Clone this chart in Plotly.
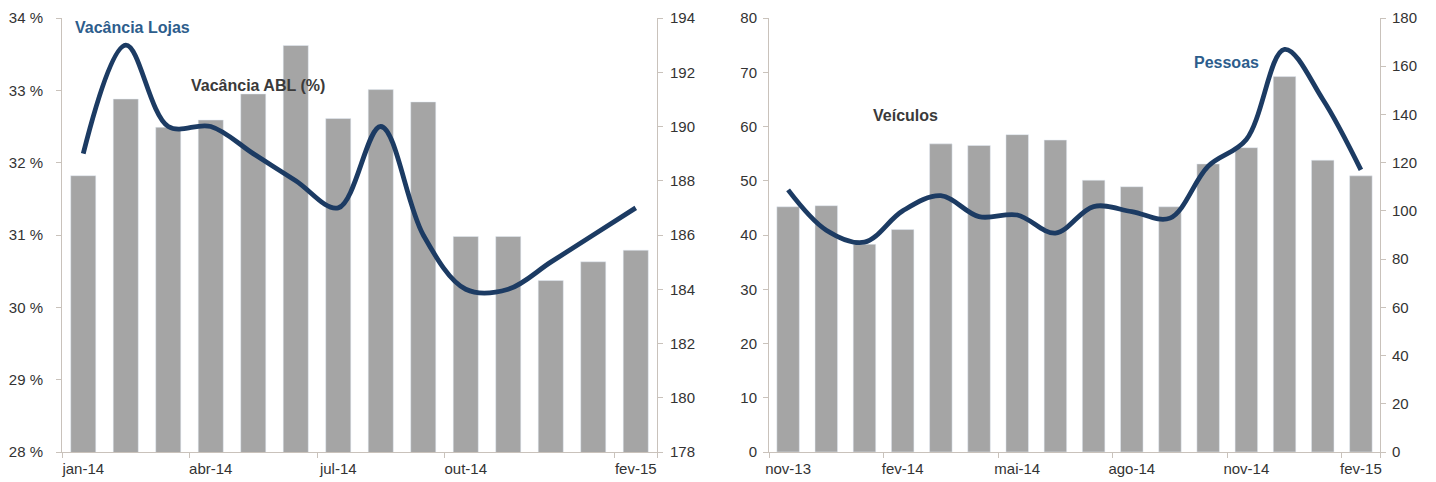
import plotly.graph_objects as go

# ---- Left chart data ----
months_left = ["jan-14", "fev-14", "mar-14", "abr-14", "mai-14", "jun-14", "jul-14",
               "ago-14", "set-14", "out-14", "nov-14", "dez-14", "jan-15", "fev-15"]
vacancia_abl = [31.82, 32.88, 32.49, 32.59, 32.95, 33.62, 32.61,
                33.01, 32.84, 30.98, 30.98, 30.37, 30.63, 30.79]
vacancia_lojas = [189, 193, 190, 190, 189, 188, 187, 190, 186, 184, 184, 185, 186, 187]
left_tick_labels = ["jan-14", "abr-14", "jul-14", "out-14", "fev-15"]
left_pct_ticks = [28, 29, 30, 31, 32, 33, 34]
left_cnt_ticks = [178, 180, 182, 184, 186, 188, 190, 192, 194]

# ---- Right chart data ----
months_right = ["nov-13", "dez-13", "jan-14", "fev-14", "mar-14", "abr-14", "mai-14", "jun-14",
                "jul-14", "ago-14", "set-14", "out-14", "nov-14", "dez-14", "jan-15", "fev-15"]
veiculos = [45.2, 45.4, 38.3, 41.0, 56.8, 56.5, 58.5, 57.5,
            50.1, 48.9, 45.2, 53.1, 56.1, 69.2, 53.8, 50.9]
pessoas = [108.7, 92, 87, 100, 106.3, 97.6, 98.3, 90.8,
           101.8, 99.7, 97, 118.5, 129.6, 167, 146.3, 117]
right_tick_labels = ["nov-13", "fev-14", "mai-14", "ago-14", "nov-14", "fev-15"]
right_left_ticks = [0, 10, 20, 30, 40, 50, 60, 70, 80]
right_right_ticks = [0, 20, 40, 60, 80, 100, 120, 140, 160, 180]

BAR = "#a5a5a5"
LINE = "#1c3b63"
BLUE_TXT = "#2d5d8c"
DARK_TXT = "#3a3a3a"
AXIS = "#c9c2bb"
FONT = "Liberation Sans, Arial, sans-serif"

fig = go.Figure()

fig.add_trace(go.Bar(x=months_left, y=vacancia_abl, marker_color=BAR,
                     xaxis="x", yaxis="y", showlegend=False))
fig.add_trace(go.Scatter(x=months_left, y=vacancia_lojas, mode="lines",
                         line=dict(color=LINE, width=4.8, shape="spline", smoothing=1.0),
                         xaxis="x", yaxis="y2", showlegend=False))
fig.add_trace(go.Bar(x=months_right, y=veiculos, marker_color=BAR,
                     xaxis="x3", yaxis="y3", showlegend=False))
fig.add_trace(go.Scatter(x=months_right, y=pessoas, mode="lines",
                         line=dict(color=LINE, width=4.8, shape="spline", smoothing=1.0),
                         xaxis="x3", yaxis="y4", showlegend=False))

W, H = 1436, 482
OFF = 8  # page body margin


def px_x(p):
    return (p - OFF) / W


def px_y(p):
    return 1 - (p - OFF) / H


ydom = [px_y(452), px_y(18)]
tickfont = dict(family=FONT, size=15, color="#333333")

common_x = dict(type="category", showline=True, linecolor=AXIS, linewidth=1,
                ticks="outside", ticklen=5, tickcolor=AXIS, tickson="boundaries",
                tickangle=0, automargin=False, ticklabelstandoff=3,
                tickfont=tickfont, showgrid=False, zeroline=False, fixedrange=True)
common_y = dict(showline=True, linecolor=AXIS, linewidth=1, ticks="outside", ticklen=5,
                tickcolor=AXIS, tickfont=tickfont, showgrid=False, zeroline=False,
                automargin=False)

fig.update_layout(
    width=W, height=H,
    margin=dict(l=0, r=0, t=0, b=0),
    paper_bgcolor="white", plot_bgcolor="white",
    bargap=0.41,
    font=dict(family=FONT),
    xaxis=dict(common_x, domain=[px_x(62), px_x(657)], anchor="y",
               tickmode="array", tickvals=left_tick_labels, ticktext=left_tick_labels,
               range=[-0.5, len(months_left) - 0.5]),
    yaxis=dict(common_y, domain=ydom, anchor="x", range=[28, 34],
               tickmode="array", tickvals=left_pct_ticks, ticklabelstandoff=10,
               ticktext=[f"{v} %" for v in left_pct_ticks]),
    yaxis2=dict(common_y, overlaying="y", side="right", anchor="x", range=[178, 194],
                tickmode="array", tickvals=left_cnt_ticks, ticklabelstandoff=4),
    xaxis3=dict(common_x, domain=[px_x(769), px_x(1380)], anchor="y3",
                tickmode="array", tickvals=right_tick_labels, ticktext=right_tick_labels,
                range=[-0.5, len(months_right) - 0.5]),
    yaxis3=dict(common_y, domain=ydom, anchor="x3", range=[0, 80],
                tickmode="array", tickvals=right_left_ticks, ticklabelstandoff=3),
    yaxis4=dict(common_y, overlaying="y3", side="right", anchor="x3", range=[0, 180],
                tickmode="array", tickvals=right_right_ticks, ticklabelstandoff=3),
)

annots = [
    ("Vacância Lojas", 132, 28, BLUE_TXT),
    ("Vacância ABL (%)", 258, 85, DARK_TXT),
    ("Veículos", 905, 115, DARK_TXT),
    ("Pessoas", 1226, 62, BLUE_TXT),
]
for text, px, py, col in annots:
    fig.add_annotation(text=f"<b>{text}</b>", xref="paper", yref="paper",
                       x=px_x(px), y=px_y(py), xanchor="center", yanchor="middle",
                       showarrow=False, font=dict(family=FONT, size=16, color=col))

fig.write_html("out.html")
